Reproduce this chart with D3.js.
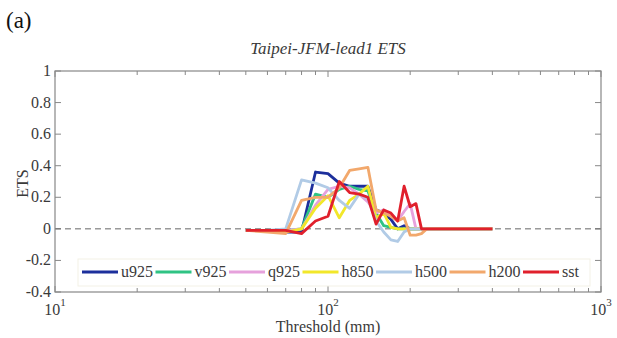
<!DOCTYPE html>
<html>
	<head>
		<style>
			body {
				margin: 0;
				background: #fff;
			}

			#chart {
				display: block;
				width: 617px;
				height: 338px;
			}
		</style>
	</head>
	<body>
		<svg id="chart" viewBox="0 0 617 338"></svg>
		<script src="https://cdnjs.cloudflare.com/ajax/libs/d3/7.8.5/d3.min.js"></script>

		<script>
			// thresholds in mm, 50 to 400 every 10
			let thresholds = [
				50, 60, 70, 80, 90, 100, 110, 120, 130, 140, 150, 160, 170, 180,
				190, 200, 210, 220, 230, 240, 250, 260, 270, 280, 290, 300, 310,
				320, 330, 340, 350, 360, 370, 380, 390, 400,
			];

			let seriesNames = ['u925', 'v925', 'q925', 'h850', 'h500', 'h200', 'sst'];

			let u925 = [-0.01, -0.01, -0.02, -0.02, 0.36, 0.35, 0.29, 0.27, 0.27, 0.27, 0.12, 0.10, 0.06, 0.0, 0.02, 0, 0, 0, 0, 0, 0, 0, 0, 0, 0, 0, 0, 0, 0, 0, 0, 0, 0, 0, 0, 0];
			let v925 = [-0.01, -0.01, -0.01, 0.0, 0.22, 0.20, 0.25, 0.27, 0.25, 0.24, 0.10, 0.02, 0.01, 0.0, 0, 0, 0, 0, 0, 0, 0, 0, 0, 0, 0, 0, 0, 0, 0, 0, 0, 0, 0, 0, 0, 0];
			let q925 = [-0.01, -0.01, -0.01, 0.0, 0.15, 0.25, 0.27, 0.26, 0.22, 0.17, 0.10, 0.12, 0.08, 0.05, 0.11, 0.16, 0.0, 0, 0, 0, 0, 0, 0, 0, 0, 0, 0, 0, 0, 0, 0, 0, 0, 0, 0, 0];
			let h850 = [-0.01, -0.01, -0.02, 0.0, 0.13, 0.21, 0.07, 0.18, 0.22, 0.27, 0.07, 0.10, 0.01, 0.0, 0, 0, 0, 0, 0, 0, 0, 0, 0, 0, 0, 0, 0, 0, 0, 0, 0, 0, 0, 0, 0, 0];
			let h500 = [-0.01, -0.01, 0.0, 0.31, 0.29, 0.26, 0.18, 0.13, 0.22, 0.19, 0.05, -0.02, -0.07, -0.08, -0.02, 0, 0, 0, 0, 0, 0, 0, 0, 0, 0, 0, 0, 0, 0, 0, 0, 0, 0, 0, 0, 0];
			let h200 = [-0.01, -0.02, -0.03, 0.18, 0.20, 0.20, 0.26, 0.37, 0.38, 0.39, 0.12, 0.10, 0.08, 0.05, 0.07, -0.04, -0.04, -0.03, 0, 0, 0, 0, 0, 0, 0, 0, 0, 0, 0, 0, 0, 0, 0, 0, 0, 0];
			let sst = [-0.01, -0.01, -0.01, -0.03, 0.05, 0.08, 0.30, 0.23, 0.22, 0.20, 0.03, 0.12, 0.10, 0.05, 0.27, 0.14, 0.16, 0.0, 0, 0, 0, 0, 0, 0, 0, 0, 0, 0, 0, 0, 0, 0, 0, 0, 0, 0];

			let allSeries = [u925, v925, q925, h850, h500, h200, sst];

			let yTicks = [-0.4, -0.2, 0, 0.2, 0.4, 0.6, 0.8, 1];
			let xDecades = [10, 100, 1000];

			let colors = ['#1c2f9c', '#2fc384', '#e6a1dc', '#f2e72a', '#b1cbe6', '#f2a86c', '#e0202c'];

			let serif = "'Liberation Serif', 'Times New Roman', Tinos, 'DejaVu Serif', serif";

			let margin = { left: 55, right: 16, top: 71, bottom: 46 };
			let width = 617, height = 338;

			let svg = d3.select('#chart')
				.attr('font-family', serif);

			let x = d3.scaleLog()
				.domain([10, 1000])
				.range([margin.left, width - margin.right]);

			let y = d3.scaleLinear()
				.domain([-0.4, 1])
				.range([height - margin.bottom, margin.top]);

			let plotLeft = x.range()[0], plotRight = x.range()[1];
			let plotTop = y.range()[1], plotBottom = y.range()[0];

			// minor log ticks
			let minorTicks = [];
			for (let d = 10; d < 1000; d *= 10) {
				for (let k = 2; k <= 9; k++) minorTicks.push(d * k);
			}

			let axisColor = '#888';
			let textColor = '#3a3a3a';

			// bottom and top axis ticks (inward)
			let xt = svg.append('g');
			minorTicks.concat(xDecades).forEach(v => {
				let len = xDecades.includes(v) ? 6 : 4;
				xt.append('line')
					.attr('x1', x(v)).attr('x2', x(v))
					.attr('y1', plotBottom).attr('y2', plotBottom - len)
					.attr('stroke', axisColor);
				xt.append('line')
					.attr('x1', x(v)).attr('x2', x(v))
					.attr('y1', plotTop).attr('y2', plotTop + len)
					.attr('stroke', axisColor);
			});

			// left and right y ticks
			let yt = svg.append('g');
			yTicks.forEach(v => {
				yt.append('line')
					.attr('x1', plotLeft).attr('x2', plotLeft + 6)
					.attr('y1', y(v)).attr('y2', y(v))
					.attr('stroke', axisColor);
				yt.append('line')
					.attr('x1', plotRight).attr('x2', plotRight - 6)
					.attr('y1', y(v)).attr('y2', y(v))
					.attr('stroke', axisColor);
				yt.append('text')
					.attr('x', plotLeft - 4)
					.attr('y', y(v) + 5)
					.attr('text-anchor', 'end')
					.attr('fill', textColor)
					.style('font-size', '16px')
					.text(v);
			});

			// x tick labels 10^n
			xDecades.forEach(v => {
				let t = svg.append('text')
					.attr('x', x(v))
					.attr('y', plotBottom + 23)
					.attr('text-anchor', 'middle')
					.attr('fill', textColor)
					.style('font-size', '16px');
				t.append('tspan').text('10');
				t.append('tspan')
					.attr('dy', -9)
					.style('font-size', '11px')
					.text(Math.log10(v));
			});

			// zero reference line
			svg.append('line')
				.attr('x1', plotLeft).attr('x2', plotRight)
				.attr('y1', y(0)).attr('y2', y(0))
				.attr('stroke', '#666')
				.attr('stroke-width', 1)
				.attr('stroke-dasharray', '6,4');

			let line = d3.line()
				.x((d, i) => x(thresholds[i]))
				.y(d => y(d));

			svg.append('g')
				.selectAll('path')
				.data(allSeries)
				.enter()
				.append('path')
				.attr('d', line)
				.attr('fill', 'none')
				.attr('stroke', (d, i) => colors[i])
				.attr('stroke-width', 2.8)
				.attr('stroke-linejoin', 'round');

			// frame
			svg.append('rect')
				.attr('x', plotLeft).attr('y', plotTop)
				.attr('width', plotRight - plotLeft)
				.attr('height', plotBottom - plotTop)
				.attr('fill', 'none')
				.attr('stroke', axisColor)
				.attr('stroke-width', 1.2);

			// legend
			let legend = svg.append('g');
			legend.append('rect')
				.attr('x', 78).attr('y', 259)
				.attr('width', 512).attr('height', 27)
				.attr('fill', '#fff')
				.attr('stroke', '#f3f1e6');
			seriesNames.forEach((name, i) => {
				let lx = 82 + i * 73.5;
				legend.append('line')
					.attr('x1', lx).attr('x2', lx + 36)
					.attr('y1', 272).attr('y2', 272)
					.attr('stroke', colors[i])
					.attr('stroke-width', 3);
				legend.append('text')
					.attr('x', lx + 39)
					.attr('y', 277)
					.attr('fill', textColor)
					.style('font-size', '16px')
					.text(name);
			});

			// titles and labels
			svg.append('text')
				.attr('x', (plotLeft + plotRight) / 2)
				.attr('y', 54)
				.attr('text-anchor', 'middle')
				.attr('fill', textColor)
				.style('font-size', '17px')
				.style('font-style', 'italic')
				.text('Taipei-JFM-lead1 ETS');

			svg.append('text')
				.attr('x', (plotLeft + plotRight) / 2)
				.attr('y', 332)
				.attr('text-anchor', 'middle')
				.attr('fill', textColor)
				.style('font-size', '16px')
				.text('Threshold (mm)');

			svg.append('text')
				.attr('transform', `translate(28, ${(plotTop + plotBottom) / 2 + 2}) rotate(-90)`)
				.attr('text-anchor', 'middle')
				.attr('fill', textColor)
				.style('font-size', '16px')
				.text('ETS');

			svg.append('text')
				.attr('x', 6)
				.attr('y', 28)
				.attr('fill', '#111')
				.style('font-size', '23px')
				.text('(a)');
		</script>
	</body>
</html>
